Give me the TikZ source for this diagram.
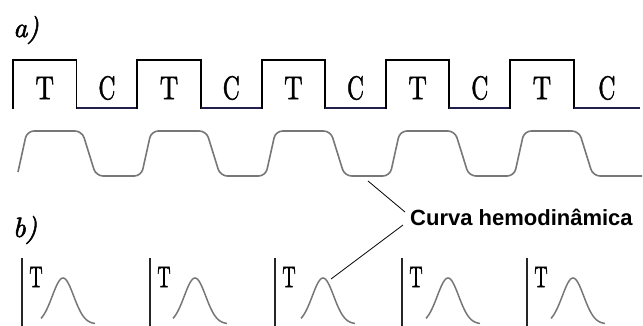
\documentclass[tikz,border=0pt]{standalone}
\usepackage{fontspec}
\newfontfamily\calloutfont{Liberation Sans}
\newfontfamily\condfont{lmroman10-regular.otf}[FakeBold=1.6]
\newfontfamily\tagfont{lmroman10-italic.otf}[FakeBold=2]
\usetikzlibrary{calc}
\definecolor{WaveGray}{HTML}{777777}
\definecolor{LowNavy}{HTML}{20204A}
\newcommand{\narrowtext}[2]{\scalebox{#1}[1]{#2}}

\begin{document}
\begin{tikzpicture}[x=1pt, y=-1pt,
  pulse/.style={line width=1.9pt, draw=black, line cap=rect},
  lowline/.style={line width=1.2pt, draw=LowNavy},
  response/.style={line width=1.6pt, draw=WaveGray, rounded corners=7pt},
  marker/.style={line width=1.4pt, draw=black!85},
  bump/.style={line width=1.5pt, draw=WaveGray},
  cond/.style={font=\condfont\fontsize{33}{33}\selectfont, inner sep=0pt},
  small/.style={font=\condfont\fontsize{30}{30}\selectfont, inner sep=0pt},
  tag/.style={font=\tagfont\fontsize{28}{28}\selectfont, inner sep=0pt},
  callout/.style={font=\calloutfont\bfseries\fontsize{22}{22}\selectfont, inner sep=1pt},
  leader/.style={line width=0.8pt, draw=black}
]
  \useasboundingbox (0,0) rectangle (643,326);
  \fill[white] (0,0) rectangle (643,326);

  % a) block design
  \node[tag] (lblA) at (26,30) {a)};
  \foreach \k in {0,...,4} {
    \pgfmathsetmacro\s{13+124.3*\k}
    \pgfmathsetmacro\f{\s+63.5}
    \pgfmathsetmacro\n{\k==4 ? 640 : \s+124.3}
    \draw[pulse] (\s,108) -- (\s,60) -- (\f,60) -- (\f,108);
    \draw[lowline] (\f,108) -- (\n,108);
    \node[cond] (t\k) at ({(\s+\f)/2},88) {\narrowtext{0.78}{T}};
    \node[cond] (c\k) at ({(\f+\n)/2},88) {\narrowtext{0.72}{C}};
  }

  % response
  \draw[response] (18,172) -- (27,131)
    \foreach \k [evaluate=\k as \s using 13+124.3*\k] in {0,...,3} {
      -- ({\s+69},131) -- ({\s+83},176) -- ({\s+128.3},176) -- ({\s+138.3},131)
    }
    -- (579,131) -- (593,176) -- (642,176);

  % b) event related
  \node[tag] (lblB) at (25,230) {b)};
  \foreach \v/\c [count=\i] in {22/63, 150/195, 275/323, 402/448, 527/573} {
    \draw[marker] (\v,258) -- (\v,326);
    \node[small] (e\i) at (\v+14,277) {\narrowtext{0.62}{T}};
    \draw[bump] plot[domain=-22:32, samples=45, smooth]
      ({\c+\x},{324-46*exp(-(\x*\x)/230)});
  }

  % label
  \node[callout, anchor=west] (curve) at (409,217) {Curva hemodinâmica};
  \coordinate (dip) at (368,181);
  \coordinate (peak) at (331,279);
  \draw[leader] ([xshift=-4pt,yshift=5pt]curve.west) -- (dip);
  \draw[leader] ([xshift=-6pt,yshift=-8pt]curve.west) -- (peak);
\end{tikzpicture}
\end{document}
